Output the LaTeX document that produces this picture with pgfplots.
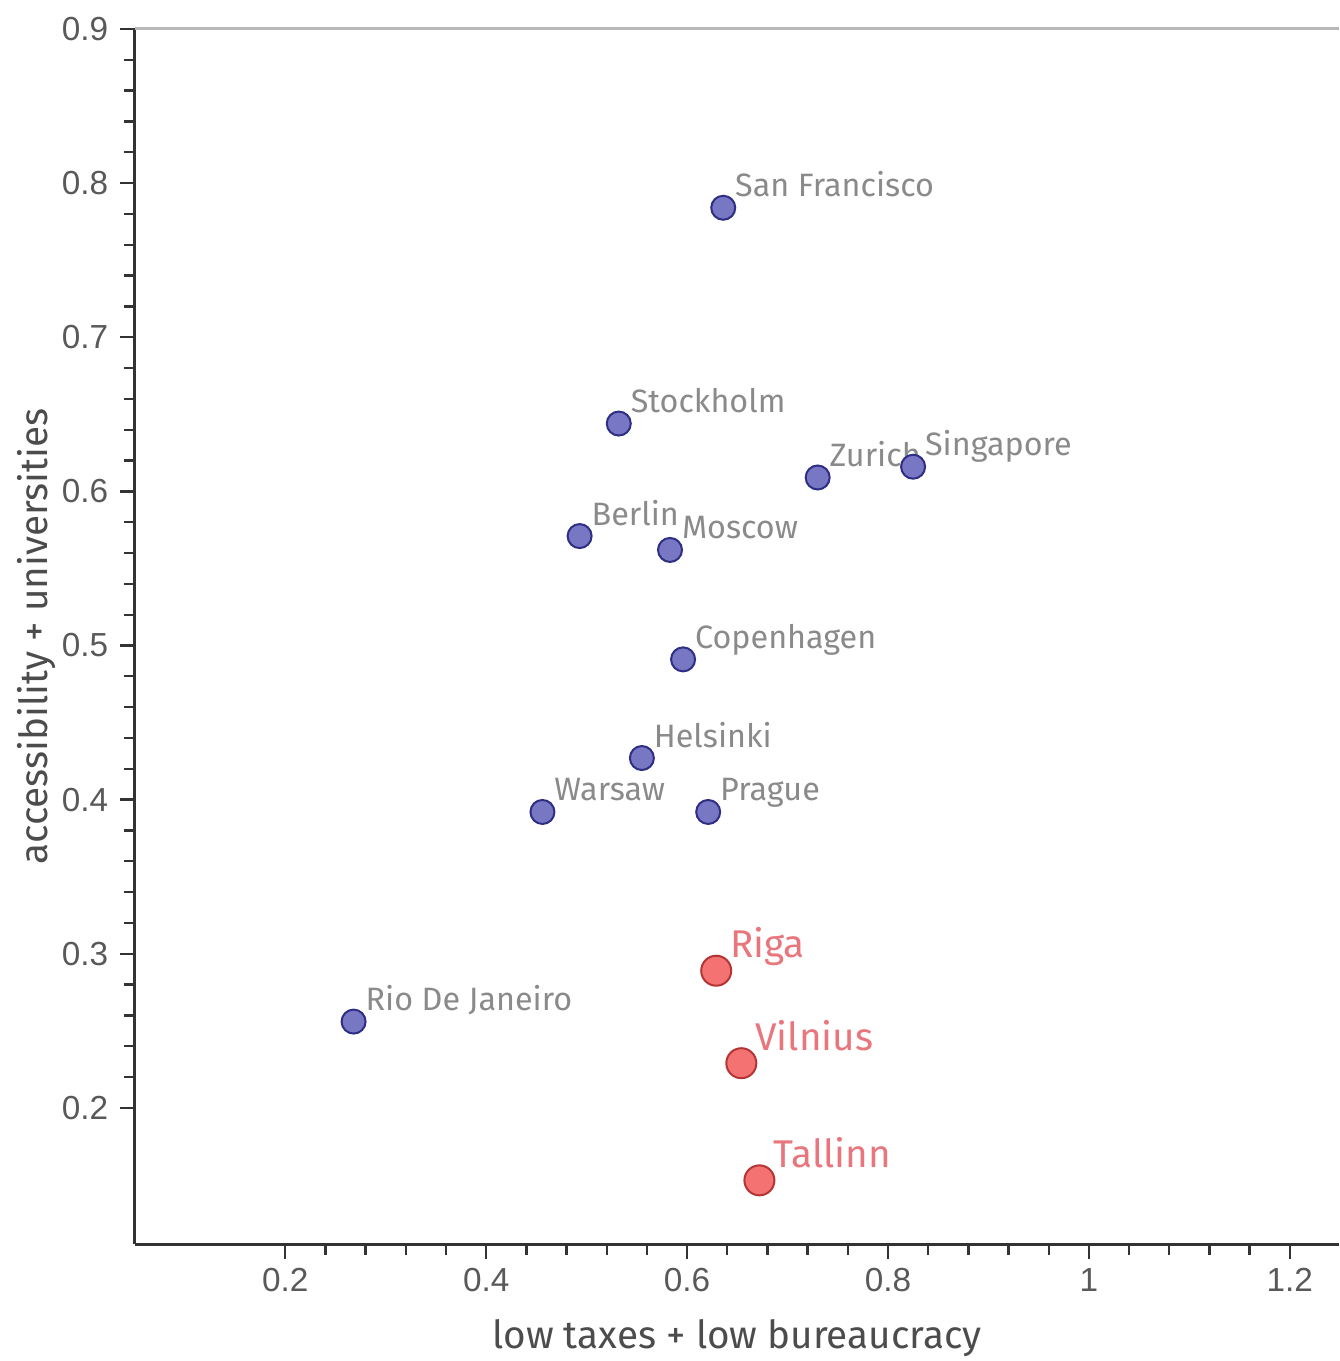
\documentclass[border=0pt]{standalone}
\usepackage{pgfplots}
\pgfplotsset{compat=1.18}
\usepackage{pgfplotstable}
\usepackage{fontspec}
\setmainfont{Fira Sans}
\newfontfamily\tickfont{Liberation Sans}
\definecolor{bluefill}{HTML}{7777C4}
\definecolor{blueedge}{HTML}{2E2E85}
\definecolor{redfill}{HTML}{F47272}
\definecolor{rededge}{HTML}{B33535}
\definecolor{lblgray}{HTML}{8A8A8A}
\definecolor{lblred}{HTML}{E8767C}
\definecolor{axgray}{HTML}{333333}
\pgfplotstableread{
x y label
0.636 0.784 {San~Francisco}
0.532 0.644 Stockholm
0.730 0.609 Zurich
0.825 0.616 Singapore
0.493 0.571 Berlin
0.583 0.562 Moscow
0.596 0.491 Copenhagen
0.555 0.427 Helsinki
0.456 0.392 Warsaw
0.621 0.392 Prague
0.268 0.256 {Rio~De~Janeiro}
}\bluedata
\pgfplotstableread{
x y label
0.629 0.289 Riga
0.654 0.229 Vilnius
0.672 0.153 Tallinn
}\reddata
\begin{document}
\begin{tikzpicture}
\begin{axis}[
  width=361.2pt, height=364.5pt, scale only axis,
  xmin=0.0504, xmax=1.249, ymin=0.1117, ymax=0.9,
  axis x line*=bottom, axis y line*=left,
  axis line style={axgray, line width=0.9pt, -},
  xtick={0.2,0.4,0.6,0.8,1,1.2},
  xticklabels={0.2,0.4,0.6,0.8,1,1.2},
  ytick={0.2,0.3,0.4,0.5,0.6,0.7,0.8,0.9},
  yticklabels={0.2,0.3,0.4,0.5,0.6,0.7,0.8,0.9},
  minor tick num=4,
  tick align=outside,
  major tick length=4.5pt, minor tick length=3.2pt,
  tick style={axgray, line width=0.7pt},
  every tick label/.append style={font=\tickfont\fontsize{10}{11}\selectfont, text=black!65},
  xticklabel style={yshift=0.8pt},
  xlabel={low taxes + low bureaucracy},
  ylabel={accessibility + universities},
  xlabel style={at={(axis description cs:0.5,-0.0864)}, anchor=base, font=\fontsize{11.6}{13}\selectfont, text=black!70},
  ylabel style={at={(axis description cs:-0.0725,0.5)}, anchor=base, rotate=0, font=\fontsize{11.6}{13}\selectfont, text=black!70},
  clip=false,
]
\draw[black!28, line width=0.9pt] (rel axis cs:0,1) -- (rel axis cs:1,1);
\addplot[only marks, mark=*, mark size=3.6pt, mark options={fill=bluefill, draw=blueedge, line width=0.6pt},
  nodes near coords, point meta=explicit symbolic,
  nodes near coords align={anchor=base west},
  every node near coord/.style={anchor=base west, inner sep=0pt, xshift=3.3pt, yshift=3.3pt, text=lblgray, font=\fontsize{9.7}{11}\selectfont}]
  table[x=x, y=y, meta=label] {\bluedata};
\addplot[only marks, mark=*, mark size=4.5pt, mark options={fill=redfill, draw=rededge, line width=0.6pt},
  nodes near coords, point meta=explicit symbolic,
  nodes near coords align={anchor=base west},
  every node near coord/.style={anchor=base west, inner sep=0pt, xshift=3.9pt, yshift=3.9pt, text=lblred, font=\fontsize{11.6}{13}\selectfont}]
  table[x=x, y=y, meta=label] {\reddata};
\coordinate (bl) at ([xshift=-40.5pt, yshift=-35.1pt]rel axis cs:0,0);
\coordinate (tr) at ([yshift=8.7pt]rel axis cs:1,1);
\end{axis}
\pgfresetboundingbox
\path[use as bounding box] (bl) rectangle (tr);
\end{tikzpicture}
\end{document}
